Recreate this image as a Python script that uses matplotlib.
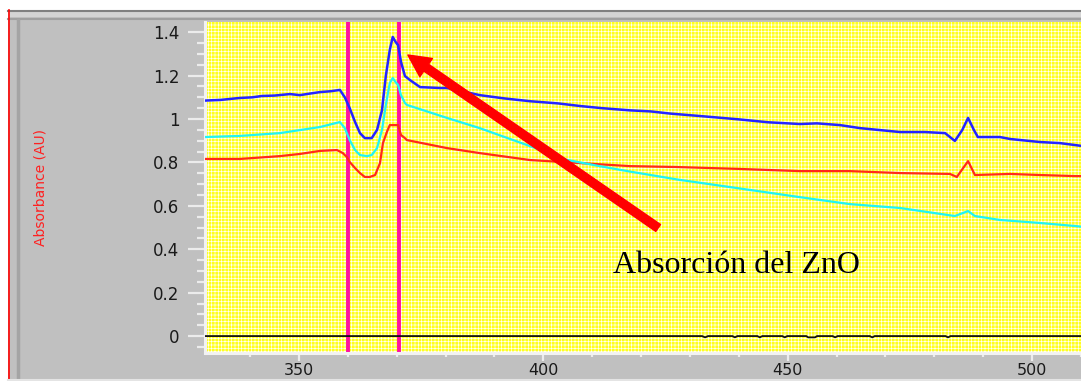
import matplotlib.pyplot as plt
from matplotlib.patches import Rectangle
from matplotlib.ticker import MultipleLocator

plt.rcParams["hatch.linewidth"] = 0.45

# wavelength (nm) / absorbance (AU)
wl_blue = [330.8, 334.0, 337.9, 340.5, 342.4, 345.0, 348.2, 350.2, 352.5, 354.3,
           356.5, 358.4, 359.4, 360.4, 361.5, 362.5, 363.5, 364.9, 366.0, 367.0,
           367.8, 368.6, 369.2, 369.8, 370.3, 370.9, 371.7, 372.7, 374.8, 378.9,
           380.3, 383.0, 387.0, 392.0, 397.3, 403.0, 407.5, 412.0, 417.7, 422.0,
           426.0, 433.0, 440.2, 446.0, 452.5, 456.0, 460.7, 464.8, 468.9,
           473.0, 478.1, 482.2, 484.2, 485.7, 486.9, 488.1, 488.9, 493.4, 495.5,
           501.6, 505.7, 508.8, 510.5]
abs_blue = [1.085, 1.088, 1.097, 1.100, 1.106, 1.108, 1.115, 1.110, 1.118, 1.124,
            1.128, 1.134, 1.100, 1.050, 0.986, 0.935, 0.912, 0.912, 0.950, 1.040,
            1.200, 1.318, 1.378, 1.355, 1.340, 1.263, 1.198, 1.180, 1.147, 1.143,
            1.143, 1.130, 1.110, 1.095, 1.082, 1.072, 1.060, 1.050, 1.040, 1.035,
            1.025, 1.012, 0.998, 0.985, 0.977, 0.980, 0.972, 0.958, 0.949,
            0.940, 0.940, 0.935, 0.899, 0.949, 1.005, 0.949, 0.917, 0.917, 0.908,
            0.894, 0.889, 0.880, 0.875]

wl_cyan = [330.8, 337.9, 346.1, 354.3, 358.4, 359.4, 360.4, 361.5, 362.5, 363.9,
           364.9, 366.0, 367.0, 367.8, 368.6, 369.2, 369.8, 370.3, 370.9, 371.7,
           372.1, 380.3, 387.0, 397.3, 404.8, 411.0, 417.7, 427.8, 440.2, 452.5,
           462.7, 473.0, 484.2, 486.9, 488.3, 493.4, 501.6, 508.8, 510.5]
abs_cyan = [0.917, 0.922, 0.935, 0.963, 0.986, 0.958, 0.903, 0.857, 0.834, 0.829,
            0.834, 0.866, 0.949, 1.065, 1.166, 1.189, 1.170, 1.157, 1.110, 1.074,
            1.065, 1.005, 0.958, 0.875, 0.812, 0.785, 0.758, 0.720, 0.680, 0.640,
            0.608, 0.590, 0.553, 0.576, 0.553, 0.535, 0.521, 0.507, 0.503]

wl_red = [330.8, 337.9, 346.1, 350.2, 354.3, 357.8, 359.0, 359.8, 360.4, 361.5,
          362.5, 363.5, 364.5, 365.6, 366.6, 367.2, 368.0, 368.6, 370.3, 370.9,
          371.7, 372.1, 380.3, 387.0, 397.3, 407.5, 417.7, 427.1, 440.2, 452.5,
          462.7, 473.0, 483.2, 484.6, 486.9, 488.3, 495.5, 501.6, 508.8, 510.5]
abs_red = [0.816, 0.816, 0.829, 0.839, 0.853, 0.857, 0.843, 0.825, 0.802, 0.774,
           0.751, 0.733, 0.733, 0.742, 0.797, 0.889, 0.940, 0.972, 0.972, 0.926,
           0.912, 0.903, 0.866, 0.843, 0.811, 0.797, 0.783, 0.779, 0.770, 0.760,
           0.760, 0.751, 0.747, 0.733, 0.806, 0.742, 0.747, 0.742, 0.737, 0.737]

wl_base = [330.8, 432.5, 433.1, 433.7, 438.7, 439.2, 439.7, 443.8, 444.3, 444.8,
           448.9, 449.4, 449.9, 453.8, 454.2, 455.6, 456.0, 459.2, 459.7, 460.2,
           466.8, 467.3, 467.8, 482.3, 482.8, 483.3, 510.5]
abs_base = [0.0, 0.0, -0.006, 0.0, 0.0, -0.006, 0.0, 0.0, -0.006, 0.0,
            0.0, -0.006, 0.0, 0.0, -0.006, -0.006, 0.0, 0.0, -0.006, 0.0,
            0.0, -0.006, 0.0, 0.0, -0.006, 0.0, 0.0]

cursor_wl = [360.0, 370.5]

y_ticks = [0, 0.2, 0.4, 0.6, 0.8, 1.0, 1.2, 1.4]
y_labels = ["0", "0.2", "0.4", "0.6", "0.8", "1", "1.2", "1.4"]
x_ticks = [350, 400, 450, 500]

fig = plt.figure(figsize=(10.81, 3.81), dpi=100)
fig.patch.set_facecolor("white")

# window frame drawn in pixel units
bg = fig.add_axes([0, 0, 1, 1], zorder=-1)
bg.set_xlim(0, 1081)
bg.set_ylim(381, 0)
bg.axis("off")
bg.add_patch(Rectangle((8, 10), 1073, 369, facecolor="#c0c0c0", edgecolor="none"))
bg.add_patch(Rectangle((8, 12), 1073, 5, facecolor="#d4d4d4", edgecolor="none"))
bg.plot([8, 1081], [10.5, 10.5], color="#808080", lw=1.5)
bg.plot([8, 1081], [18.5, 18.5], color="#a0a0a0", lw=1.5)
bg.plot([8.5, 8.5], [10, 381], color="red", lw=1.2)
bg.plot([17.5, 17.5], [20, 379], color="#a4a4a4", lw=2.5)
bg.plot([8, 1081], [379.5, 379.5], color="#e4e4e4", lw=1.5)

ax = fig.add_axes([205 / 1081, 1 - 353 / 381, 876 / 1081, 331 / 381])
ax.set_facecolor("#ffff30")
ax.add_patch(Rectangle((0, 0), 1, 1, transform=ax.transAxes, facecolor="#ffff20",
                       edgecolor="white", lw=0, hatch="+++++", zorder=0))

ax.plot(wl_base, abs_base, color="#101010", lw=1.3, zorder=3)
for c in cursor_wl:
    ax.axvline(c, color="#ff10a0", lw=2.8, zorder=2)
ax.plot(wl_red, abs_red, color="#ff2a1a", lw=1.6, zorder=4)
ax.plot(wl_cyan, abs_cyan, color="#20f4f4", lw=1.6, zorder=4)
ax.plot(wl_blue, abs_blue, color="#2424ff", lw=1.8, zorder=5)

ax.annotate("", xy=(372.3, 1.295), xytext=(423.5, 0.498),
            arrowprops=dict(width=6, headwidth=16, headlength=16, shrink=0,
                            facecolor="#ff0000", edgecolor="#ff0000"), zorder=6)
ax.text(414.3, 0.29, "Absorción del ZnO", family="Liberation Serif",
        fontsize=23, va="baseline", color="black", zorder=6)

ax.set_xlim(330.8, 510.0)
ax.set_ylim(-0.078, 1.447)

ax.set_yticks(y_ticks)
ax.set_yticklabels(y_labels)
ax.yaxis.set_minor_locator(MultipleLocator(0.05))
ax.set_xticks(x_ticks)
ax.xaxis.set_minor_locator(MultipleLocator(10))

for s in ["top", "right"]:
    ax.spines[s].set_visible(False)
for s in ["left", "bottom"]:
    ax.spines[s].set_color("#f2f2f2")
    ax.spines[s].set_linewidth(2.2)

ax.tick_params(axis="y", which="major", length=12.5, width=1.6, color="#ececec",
               pad=6, labelsize=12, labelcolor="#1a1a1a")
ax.tick_params(axis="y", which="minor", length=6, width=1.6, color="#ececec")
ax.tick_params(axis="x", which="major", length=5.5, width=1.6, color="#ececec",
               pad=1.5, labelsize=11.5, labelcolor="#1a1a1a")
ax.tick_params(axis="x", which="minor", length=3, width=1.6, color="#ececec")

fig.text(40 / 1081, 1 - 187 / 381, "Absorbance (AU)", rotation=90, color="#ff2020",
         fontsize=10, ha="center", va="center")

fig.savefig("out.png", dpi=100)
